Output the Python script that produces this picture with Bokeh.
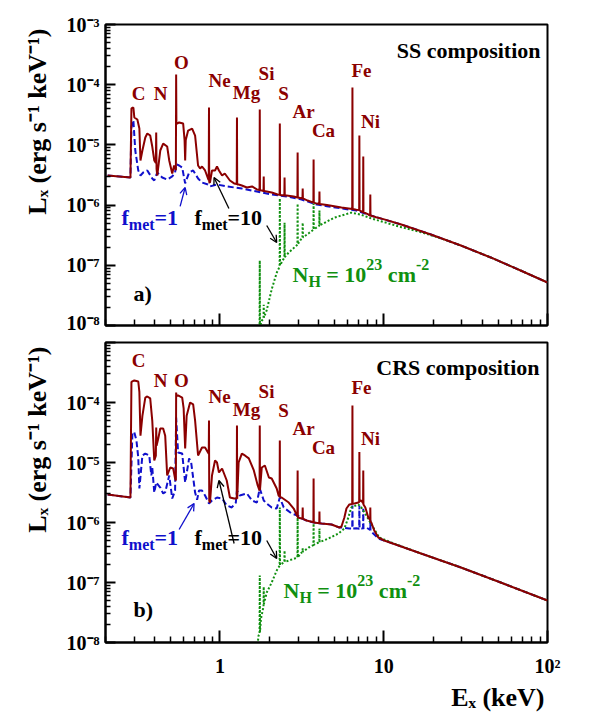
import math
from bokeh.plotting import figure
from bokeh.layouts import column
from bokeh.models import Label, Arrow, OpenHead, FixedTicker, CustomJSTickFormatter, Title
from bokeh.embed import file_html
from bokeh.resources import INLINE

# ---------------- data (energies in keV, luminosities in erg/s/keV) ----------------
# (a) SS composition, f_met = 10 (solid)
ss10_E = [0.206, 0.284, 0.288, 0.296, 0.300, 0.313, 0.322, 0.327, 0.336, 0.350, 0.360, 0.375,
          0.386, 0.397, 0.406, 0.408, 0.410, 0.414, 0.432, 0.450, 0.476, 0.490, 0.511, 0.525,
          0.538, 0.540, 0.542, 0.548, 0.563, 0.596, 0.608, 0.613, 0.618, 0.639, 0.676, 0.705,
          0.735, 0.756, 0.777, 0.811, 0.845, 0.854, 0.857, 0.860, 0.869, 0.894, 0.933, 0.959,
          0.986, 1.03, 1.07, 1.15, 1.22, 1.266, 1.27, 1.274, 1.30, 1.36, 1.46, 1.57, 1.68,
          1.745, 1.75, 1.755, 1.80, 1.845, 1.85, 1.855, 1.93, 2.07, 2.25, 2.313, 2.32, 2.327,
          2.473, 2.48, 2.487, 2.55, 2.82, 2.971, 2.98, 2.989, 3.19, 3.20, 3.21, 3.43, 3.72,
          3.73, 3.74, 3.9, 4.04, 4.05, 4.06, 4.5, 5.52, 6.42, 6.44, 6.46, 6.81, 7.08, 7.10,
          7.12, 7.48, 7.50, 7.52, 8.05, 8.26, 8.28, 8.30, 9.0, 10.07, 12.8, 19.4, 29.6, 45.0,
          68.5, 100.0]
ss10_L = [3.10e-6, 2.87e-6, 4.03e-5, 4.18e-5, 2.85e-5, 2.64e-5, 1.87e-5, 5.51e-6, 8.07e-6,
          1.33e-5, 1.55e-5, 1.43e-5, 9.40e-6, 5.51e-6, 5.0e-6, 1.61e-5, 4.0e-6, 3.10e-6,
          8.07e-6, 1.05e-5, 9.40e-6, 5.51e-6, 3.35e-6, 4.55e-6, 3.8e-6, 1.48e-4, 2.3e-5,
          2.26e-5, 2.36e-5, 2.26e-5, 1.2e-5, 5.51e-6, 1.2e-5, 1.73e-5, 1.87e-5, 1.43e-5,
          4.55e-6, 4.06e-6, 4.38e-6, 3.76e-6, 2.77e-6, 2.6e-6, 4.18e-5, 2.4e-6, 2.37e-6,
          3.76e-6, 3.76e-6, 4.38e-6, 3.76e-6, 3.10e-6, 3.35e-6, 2.56e-6, 2.29e-6, 2.25e-6,
          2.85e-5, 2.2e-6, 2.2e-6, 2.12e-6, 1.96e-6, 2.04e-6, 1.82e-6, 1.78e-6, 3.87e-5,
          1.76e-6, 1.75e-6, 1.72e-6, 2.99e-6, 1.71e-6, 1.68e-6, 1.62e-6, 1.50e-6, 1.48e-6,
          2.26e-5, 1.47e-6, 1.45e-6, 2.87e-6, 1.45e-6, 1.44e-6, 1.39e-6, 1.34e-6, 7.48e-6,
          1.34e-6, 1.29e-6, 1.89e-6, 1.29e-6, 1.19e-6, 1.10e-6, 5.72e-6, 1.10e-6, 1.06e-6,
          1.04e-6, 1.68e-6, 1.04e-6, 1.0e-6, 9.1e-7, 8.6e-7, 8.97e-5, 8.6e-7, 8.4e-7, 8.3e-7,
          1.43e-5, 8.2e-7, 7.6e-7, 6.41e-6, 7.6e-7, 7.0e-7, 6.7e-7, 1.50e-6, 6.7e-7, 6.3e-7,
          5.8e-7, 4.76e-7, 3.25e-7, 2.13e-7, 1.35e-7, 8.2e-8, 5.18e-8]

# (a) SS composition, f_met = 1 (dashed)
ss1_E = [0.206, 0.284, 0.288, 0.296, 0.304, 0.317, 0.327, 0.340, 0.360, 0.386, 0.397, 0.414,
         0.444, 0.476, 0.511, 0.532, 0.540, 0.563, 0.588, 0.613, 0.648, 0.686, 0.735, 0.777,
         0.845, 0.869, 0.959, 1.10, 1.36, 1.68, 2.07, 2.55, 3.15, 3.9, 4.5, 5.52, 6.81, 8.05,
         10.07, 12.8, 19.4, 29.6, 45.0, 68.5, 100.0]
ss1_L = [3.10e-6, 2.87e-6, 2.0e-5, 2.55e-5, 8.07e-6, 3.76e-6, 3.10e-6, 3.48e-6, 3.76e-6,
         2.77e-6, 2.56e-6, 3.48e-6, 2.87e-6, 2.66e-6, 2.99e-6, 3.48e-6, 4.8e-6, 4.55e-6,
         4.2e-6, 2.29e-6, 3.48e-6, 3.76e-6, 2.77e-6, 2.37e-6, 2.20e-6, 2.04e-6, 2.20e-6,
         2.04e-6, 1.89e-6, 1.68e-6, 1.50e-6, 1.39e-6, 1.24e-6, 1.02e-6, 9.6e-7, 8.8e-7,
         8.1e-7, 6.9e-7, 5.77e-7, 4.76e-7, 3.25e-7, 2.13e-7, 1.35e-7, 8.2e-8, 5.18e-8]

# (a) SS composition, f_met = 10 absorbed by N_H = 1e23 (dotted)
ssabs_E = [1.60, 1.72, 1.745, 1.75, 1.755, 1.80, 1.845, 1.85, 1.855, 1.93, 2.07, 2.22, 2.313,
           2.32, 2.327, 2.473, 2.48, 2.487, 2.63, 2.971, 2.98, 2.989, 3.15, 3.19, 3.20, 3.21,
           3.48, 3.72, 3.73, 3.74, 4.04, 4.05, 4.06, 5.0, 6.34, 7.3, 8.4, 10.07, 12.8, 16.9,
           22.4, 29.6, 45.0, 68.5, 100.0]
ssabs_L = [2e-9, 9e-9, 9.5e-9, 1.20e-7, 9.5e-9, 1.2e-8, 1.3e-8, 2.2e-8, 1.35e-8, 1.8e-8,
           4.0e-8, 7.5e-8, 9.5e-8, 1.29e-6, 1.0e-7, 1.35e-7, 5.1e-7, 1.37e-7, 1.63e-7, 2.2e-7,
           1.06e-6, 2.25e-7, 2.79e-7, 2.85e-7, 5.1e-7, 2.9e-7, 3.4e-7, 3.9e-7, 1.06e-6,
           3.95e-7, 4.55e-7, 8.1e-7, 4.6e-7, 6.2e-7, 7.5e-7, 6.9e-7, 6.0e-7, 5.2e-7, 4.3e-7,
           3.55e-7, 2.8e-7, 2.13e-7, 1.35e-7, 8.2e-8, 5.18e-8]

# (b) CRS composition, f_met = 10 (solid)
crs10_E = [0.206, 0.284, 0.288, 0.300, 0.317, 0.322, 0.327, 0.336, 0.350, 0.360, 0.375, 0.386,
           0.397, 0.406, 0.408, 0.410, 0.420, 0.432, 0.450, 0.463, 0.476, 0.497, 0.518, 0.532,
           0.538, 0.540, 0.542, 0.555, 0.588, 0.600, 0.613, 0.626, 0.657, 0.686, 0.705, 0.735,
           0.777, 0.811, 0.845, 0.854, 0.857, 0.860, 0.869, 0.894, 0.933, 0.959, 0.986, 1.03,
           1.10, 1.15, 1.22, 1.266, 1.27, 1.274, 1.30, 1.36, 1.42, 1.50, 1.61, 1.70, 1.745,
           1.75, 1.755, 1.80, 1.88, 1.99, 2.07, 2.22, 2.28, 2.313, 2.32, 2.327, 2.38, 2.63,
           2.82, 2.971, 2.98, 2.989, 3.15, 3.19, 3.20, 3.21, 3.38, 3.72, 3.73, 3.74, 4.04, 4.05,
           4.06, 4.17, 4.80, 5.36, 5.52, 5.75, 5.92, 6.17, 6.42, 6.44, 6.46, 6.62, 7.0, 7.08,
           7.10, 7.12, 7.30, 7.48, 7.50, 7.52, 7.72, 8.05, 8.26, 8.28, 8.30, 8.40, 8.75, 9.27,
           10.07, 16.9, 29.6, 51.8, 100.0]
crs10_L = [2.93e-6, 2.61e-6, 2.2e-4, 2.33e-4, 2.24e-4, 1.5e-4, 2.8e-5, 6.0e-5, 1.21e-4, 1.26e-4,
           1.17e-4, 5.0e-5, 1.08e-5, 1.3e-5, 3.83e-5, 1.9e-5, 2.5e-5, 3.69e-5, 3.69e-5, 2.8e-5,
           6.07e-6, 8.25e-6, 7.94e-6, 5.41e-6, 5.0e-6, 1.47e-4, 1.3e-4, 1.31e-4, 1.21e-4,
           8.0e-5, 1.71e-5, 6.0e-5, 1.0e-4, 9.3e-5, 5.0e-5, 1.31e-5, 1.78e-5, 1.78e-5, 1.47e-5,
           1.4e-5, 5.0e-5, 2.3e-6, 2.15e-6, 6.07e-6, 1.08e-5, 1.0e-5, 6.81e-6, 7.94e-6, 5.01e-6,
           2.61e-6, 2.51e-6, 2.5e-6, 4.14e-5, 2.5e-6, 1.0e-5, 1.41e-5, 1.31e-5, 1.17e-5,
           7.36e-6, 4.14e-6, 3.4e-6, 4.14e-5, 3.5e-6, 8.25e-6, 8.91e-6, 5.62e-6, 5.41e-6,
           3.69e-6, 2.82e-6, 2.7e-6, 2.33e-5, 2.65e-6, 2.61e-6, 2.15e-6, 1.71e-6, 1.25e-6,
           7.36e-6, 1.21e-6, 1.17e-6, 1.16e-6, 1.78e-6, 1.15e-6, 1.08e-6, 1.01e-6, 5.41e-6,
           1.0e-6, 9.7e-7, 1.52e-6, 9.7e-7, 9.62e-7, 9.26e-7, 8.25e-7, 8.58e-7, 1.21e-6,
           1.71e-6, 2.0e-6, 2.03e-6, 8.91e-5, 2.05e-6, 2.07e-6, 2.15e-6, 2.2e-6, 1.5e-5, 2.25e-6,
           2.33e-6, 2.1e-6, 7.36e-6, 2.0e-6, 1.78e-6, 1.21e-6, 1.1e-6, 1.78e-6, 1.05e-6, 1.0e-6,
           7.36e-7, 5.62e-7, 5.01e-7, 3.04e-7, 1.78e-7, 1.0e-7, 5.01e-8]

# (b) CRS composition, f_met = 1 (dashed)
crs1_E = [0.206, 0.284, 0.292, 0.300, 0.309, 0.317, 0.322, 0.336, 0.350, 0.370, 0.381, 0.386,
          0.397, 0.408, 0.432, 0.450, 0.463, 0.490, 0.511, 0.532, 0.540, 0.555, 0.588, 0.613,
          0.648, 0.667, 0.705, 0.725, 0.745, 0.777, 0.811, 0.857, 0.894, 0.959, 1.03, 1.10,
          1.18, 1.25, 1.27, 1.32, 1.46, 1.57, 1.68, 1.75, 1.85, 1.93, 2.07, 2.22, 2.32, 2.45,
          2.74, 2.98, 3.15, 3.38, 3.73, 4.17, 4.80, 5.36, 5.52, 6.17, 6.42, 6.44, 6.46, 6.81,
          7.08, 7.10, 7.12, 7.30, 7.48, 7.50, 7.52, 7.83, 8.26, 8.28, 8.30, 8.63, 9.27, 10.07,
          16.9, 29.6, 51.8, 100.0]
crs1_L = [2.93e-6, 2.61e-6, 3.16e-5, 3.16e-5, 2.33e-5, 1.21e-5, 3.69e-6, 1.31e-5, 1.41e-5,
          1.31e-5, 6.07e-6, 8.25e-6, 3.16e-6, 4.64e-6, 3.83e-6, 3.04e-6, 3.2e-6, 6.07e-6,
          2.51e-6, 3.41e-6, 5.62e-5, 1.47e-5, 1.41e-5, 4.64e-6, 1.17e-5, 1.0e-5, 3.16e-6,
          2.4e-6, 3.41e-6, 3.41e-6, 2.82e-6, 2.07e-6, 2.33e-6, 2.61e-6, 2.51e-6, 1.92e-6,
          1.78e-6, 2.15e-6, 3.41e-6, 2.82e-6, 3.04e-6, 2.33e-6, 2.15e-6, 3.69e-6, 2.33e-6,
          2.07e-6, 1.78e-6, 1.71e-6, 2.61e-6, 1.78e-6, 1.41e-6, 1.31e-6, 1.17e-6, 1.08e-6,
          1.0e-6, 9.62e-7, 9.26e-7, 8.25e-7, 8.25e-7, 7.94e-7, 7.9e-7, 1.92e-6, 7.9e-7, 8.0e-7,
          7.9e-7, 1.92e-6, 7.9e-7, 7.9e-7, 8.0e-7, 1.7e-6, 8.0e-7, 8.25e-7, 7.5e-7, 1.1e-6,
          7.3e-7, 6.56e-7, 5.41e-7, 5.01e-7, 3.04e-7, 1.78e-7, 1.0e-7, 5.01e-8]

# (b) CRS composition, f_met = 10 absorbed by N_H = 1e23 (dotted)
crsabs_E = [1.60, 1.72, 1.745, 1.75, 1.755, 1.78, 1.845, 1.85, 1.855, 1.93, 2.07, 2.22, 2.313,
            2.32, 2.327, 2.473, 2.48, 2.487, 2.86, 2.971, 2.98, 2.989, 3.15, 3.19, 3.20, 3.21,
            3.48, 3.72, 3.73, 3.74, 4.0, 4.04, 4.05, 4.06, 4.6, 5.29, 5.75, 6.08, 6.34, 7.0,
            7.3, 7.83, 8.63, 9.39, 11.1, 16.9, 29.6, 51.8, 100.0]
crsabs_L = [2e-9, 1.3e-8, 1.4e-8, 1.31e-7, 1.5e-8, 2.5e-8, 4.0e-8, 8.5e-8, 4.4e-8, 6.81e-8,
            1.0e-7, 1.58e-7, 1.9e-7, 1.78e-6, 1.95e-7, 2.2e-7, 3.41e-7, 2.2e-7, 2.51e-7, 2.6e-7,
            1.21e-6, 2.65e-7, 3.16e-7, 3.2e-7, 3.7e-7, 3.25e-7, 3.83e-7, 4.2e-7, 9.62e-7,
            4.25e-7, 4.64e-7, 4.7e-7, 7.94e-7, 4.7e-7, 5.41e-7, 6.56e-7, 7.94e-7, 1.21e-6,
            1.78e-6, 2.0e-6, 1.78e-6, 1.31e-6, 8.25e-7, 5.62e-7, 4.64e-7, 3.04e-7, 1.78e-7,
            1.0e-7, 5.01e-8]

# arrows (E_start, L_start, E_end, L_end)
arrows_a = [(0.571, 9.5e-7, 0.613, 1.96e-6, "blue"), (1.134, 8.8e-7, 0.920, 2.87e-6, "black"),
            (1.93, 4.58e-7, 2.22, 2.39e-7, "black")]
arrows_b = [(0.563, 7.64e-7, 0.695, 2.07e-6, "blue"), (1.22, 4.47e-7, 0.986, 5.01e-6, "black"),
            (1.93, 5.01e-7, 2.22, 2.51e-7, "black")]

# tick values
x_major = [1, 10, 100]
x_minor = [0.2, 0.3, 0.4, 0.5, 0.6, 0.7, 0.8, 0.9] + list(range(2, 10)) + list(range(20, 100, 10))
y_major = [1e-8, 1e-7, 1e-6, 1e-5, 1e-4, 1e-3]
y_minor = [k * 10.0 ** n for n in range(-8, -3) for k in range(2, 10)]

y_title = "L\u2093 (erg s\u207b\u00b9 keV\u207b\u00b9)"
x_title = "E\u2093 (keV)"

# ---------------- style ----------------
FONT = "Liberation Serif"
RED = "#8b0000"
BLUE = "#1010cc"
GREEN = "#109010"
FRAME_LEFT = 105  # canvas px of frame left

WIDTHS = {' ': 250, '(': 333, ')': 333, '-': 333, '=': 570, 'A': 722, 'C': 722, 'E': 667,
          'H': 778, 'L': 667, 'N': 722, 'X': 722, 'V': 722, 'e': 444, 'r': 444, 'g': 500,
          's': 389, 'k': 556, 'c': 444, 'm': 833, 't': 333, 'f': 333}

SUP_JS = """
const sup = {"-": "\\u207B", "0": "\\u2070", "1": "\\u00B9", "2": "\\u00B2", "3": "\\u00B3",
             "4": "\\u2074", "5": "\\u2075", "6": "\\u2076", "7": "\\u2077", "8": "\\u2078",
             "9": "\\u2079"};
function p10(t) {
  const e = Math.round(Math.log10(t));
  return "10" + String(e).split("").map(c => sup[c]).join("");
}
"""


def tw(s, size):
    return sum(WIDTHS.get(c, 500) for c in s) * size / 1000.0


def rich(p, panel_bottom, x0, base_y, pieces, color):
    adv = 0.0
    for text, size, dy in pieces:
        lead = len(text) - len(text.lstrip(' '))
        adv += lead * 250 * size / 1000.0
        t = text.lstrip(' ')
        p.add_layout(Label(x=x0 - FRAME_LEFT + adv, y=panel_bottom - base_y + dy,
                           x_units="screen", y_units="screen", text=t,
                           text_font=FONT, text_font_style="bold", text_font_size=f"{size}px",
                           text_color=color, text_align="left", text_baseline="alphabetic"))
        adv += tw(t, size)


def plain(p, panel_bottom, x, base_y, text, size, color, align="center"):
    p.add_layout(Label(x=x - FRAME_LEFT, y=panel_bottom - base_y, x_units="screen",
                       y_units="screen", text=text, text_font=FONT, text_font_style="bold",
                       text_font_size=f"{size}px", text_color=color, text_align=align,
                       text_baseline="alphabetic"))


def make_fig(frame_h, top, bottom, is_bottom):
    p = figure(x_axis_type="log", y_axis_type="log", x_range=(0.2, 100), y_range=(1e-8, 1e-3),
               frame_width=442, frame_height=frame_h, min_border_left=105, min_border_right=47,
               min_border_top=top, min_border_bottom=bottom, output_backend="svg",
               toolbar_location=None, background_fill_color="white", border_fill_color="white")
    p.grid.visible = False
    p.outline_line_color = "black"
    p.outline_line_width = 2
    p.xaxis.ticker = FixedTicker(ticks=x_major, minor_ticks=x_minor)
    p.yaxis.ticker = FixedTicker(ticks=y_major, minor_ticks=y_minor)
    for ax in (p.xaxis[0], p.yaxis[0]):
        ax.axis_line_width = 2
        ax.major_tick_out = 0
        ax.minor_tick_out = 0
        ax.major_tick_line_width = 2
        ax.minor_tick_line_width = 1.5
        ax.major_label_text_font = FONT
        ax.major_label_text_font_style = "bold"
        ax.major_label_text_font_size = "20px"
        ax.major_label_text_color = "black"
    p.xaxis.major_tick_in = 12
    p.xaxis.minor_tick_in = 6
    p.yaxis.major_tick_in = 10
    p.yaxis.minor_tick_in = 5
    p.yaxis.major_label_standoff = 6
    if is_bottom:
        p.xaxis.formatter = CustomJSTickFormatter(
            code=SUP_JS + "return tick > 50 ? p10(tick) : tick.toFixed(0);")
        p.xaxis.major_label_standoff = 12
        p.yaxis.formatter = CustomJSTickFormatter(
            code=SUP_JS + "return tick > 5e-4 ? '' : p10(tick);")
    else:
        p.xaxis.formatter = CustomJSTickFormatter(code="return '';")
        p.xaxis.major_label_standoff = 0
        p.xaxis.major_label_text_font_size = "1px"
        p.yaxis.formatter = CustomJSTickFormatter(code=SUP_JS + "return p10(tick);")
    p.add_layout(Title(text=y_title, align="right", vertical_align="top", offset=4,
                       text_font=FONT, text_font_style="bold", text_font_size="26px",
                       text_color="black", standoff=20), "left")
    return p


def draw(p, E10, L10, E1, L1, Eabs, Labs, arrows):
    p.line(E1, L1, line_color=BLUE, line_width=2, line_dash="6 3")
    p.line(Eabs, Labs, line_color=GREEN, line_width=2, line_dash="2 2")
    p.line(E10, L10, line_color=RED, line_width=2)
    for (x0, y0, x1, y1, c) in arrows:
        col = BLUE if c == "blue" else "black"
        p.add_layout(Arrow(x_start=x0, y_start=y0, x_end=x1, y_end=y1, line_color=col,
                           line_width=1.3,
                           end=OpenHead(size=7, line_color=col, line_width=1.3)))


# ---------------- panel a ----------------
pa = make_fig(301, 24, 8, False)
draw(pa, ss10_E, ss10_L, ss1_E, ss1_L, ssabs_E, ssabs_L, arrows_a)
BA = 325
for (txt, cx, by) in [("C", 138, 93), ("N", 160, 93), ("O", 181, 62), ("Ne", 219, 80),
                      ("Mg", 246, 92), ("Si", 266, 73), ("S", 283, 93), ("Ar", 303, 111),
                      ("Ca", 323, 130), ("Fe", 361, 70), ("Ni", 370, 121)]:
    plain(pa, BA, cx, by, txt, 19, RED)
plain(pa, BA, 540, 50, "SS composition", 22, "black", align="right")
plain(pa, BA, 133, 293, "a)", 22, "black", align="left")
rich(pa, BA, 121, 217, [("f", 22, 0), ("met", 16, -7), ("=1", 22, 0)], BLUE)
rich(pa, BA, 194, 217, [("f", 22, 0), ("met", 16, -7), ("=10", 22, 0)], "black")
rich(pa, BA, 292, 274, [("N", 22, 0), ("H", 16, -7), (" = 10", 22, 0), ("23", 16, 10),
                        (" cm", 22, 0), ("-2", 16, 10)], GREEN)

# ---------------- panel b ----------------
pb = make_fig(300, 9, 71, True)
draw(pb, crs10_E, crs10_L, crs1_E, crs1_L, crsabs_E, crsabs_L, arrows_b)
BB = 642
for (txt, cx, by) in [("C", 138, 360), ("N", 160, 380), ("O", 181, 380), ("Ne", 219, 396),
                      ("Mg", 246, 409), ("Si", 266, 391), ("S", 283, 410), ("Ar", 303, 428),
                      ("Ca", 323, 447), ("Fe", 361, 387), ("Ni", 370, 438)]:
    plain(pb, BB, cx, by, txt, 19, RED)
plain(pb, BB, 539, 367, "CRS composition", 22, "black", align="right")
plain(pb, BB, 133, 609, "b)", 22, "black", align="left")
rich(pb, BB, 121, 537, [("f", 22, 0), ("met", 16, -7), ("=1", 22, 0)], BLUE)
rich(pb, BB, 194, 537, [("f", 22, 0), ("met", 16, -7), ("=10", 22, 0)], "black")
rich(pb, BB, 283, 590, [("N", 22, 0), ("H", 16, -7), (" = 10", 22, 0), ("23", 16, 10),
                        (" cm", 22, 0), ("-2", 16, 10)], GREEN)
pb.add_layout(Title(text=x_title, align="right", offset=3, text_font=FONT,
                    text_font_style="bold", text_font_size="26px", text_color="black",
                    standoff=2), "below")

layout = column(pa, pb)
open("out.html", "w").write(file_html(layout, INLINE))
